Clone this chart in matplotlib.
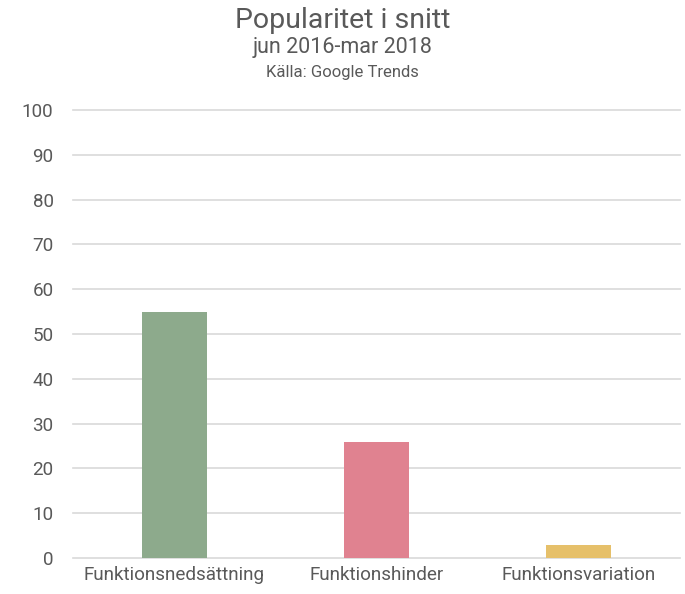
import matplotlib.pyplot as plt

# data
categories = ['Funktionsnedsättning', 'Funktionshinder', 'Funktionsvariation']
popularity = [55, 26, 3]
colors = ['#8daa8c', '#e08290', '#e6c06a']
y_ticks = list(range(0, 101, 10))

plt.rcParams['font.family'] = ['Roboto', 'DejaVu Sans']
text_color = '#595959'

fig = plt.figure(figsize=(6.85, 5.94), dpi=100)
ax = fig.add_axes([73 / 685, 36 / 594, 607 / 685, 448 / 594])

x = range(len(categories))
ax.bar(x, popularity, width=0.32, color=colors, zorder=3)

ax.set_xlim(-0.5, len(categories) - 0.5)
ax.set_ylim(0, 100)
ax.set_yticks(y_ticks)
ax.set_xticks(list(x))
ax.set_xticklabels(categories)
ax.yaxis.grid(True, color='#d9d9d9', linewidth=1.2, zorder=0)
ax.set_axisbelow(True)
for line in ax.get_ygridlines():
    line.set_clip_on(False)

for s in ax.spines.values():
    s.set_visible(False)
ax.tick_params(axis='both', length=0, colors=text_color, labelsize=13.6)
ax.tick_params(axis='y', pad=14)
ax.tick_params(axis='x', pad=6)

fig.text(0.5, 1 - 21 / 594, 'Popularitet i snitt', ha='center', va='center',
         fontsize=20.5, color=text_color)
fig.text(0.5, 1 - 48 / 594, 'jun 2016-mar 2018', ha='center', va='center',
         fontsize=15.5, color=text_color)
fig.text(0.5, 1 - 73 / 594, 'Källa: Google Trends', ha='center', va='center',
         fontsize=12, color=text_color)

fig.savefig('out.png', dpi=100)
